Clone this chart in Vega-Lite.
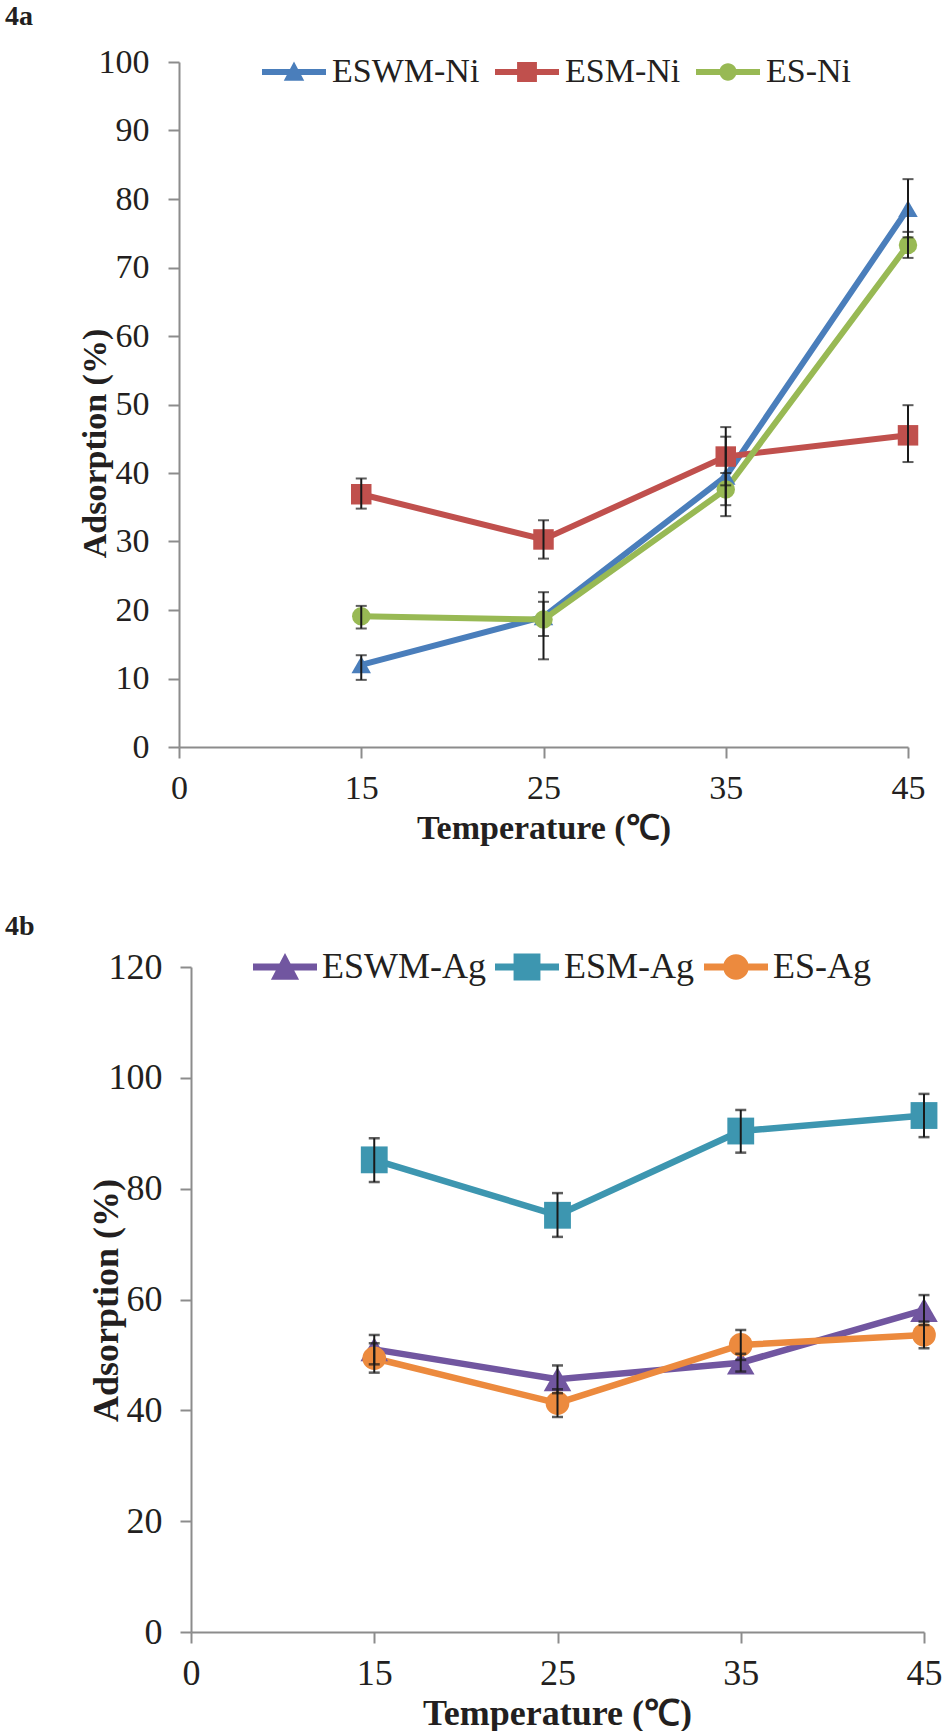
{
  "$schema": "https://vega.github.io/schema/vega-lite/v6.json",
  "background": "white",
  "padding": {"left": 5, "top": 3, "right": 0, "bottom": 0},
  "columns": 1,
  "spacing": 68,
  "resolve": {
    "scale": {"color": "independent", "shape": "independent", "fill": "independent", "stroke": "independent"},
    "legend": {"color": "independent", "shape": "independent"}
  },
  "config": {
    "font": "Liberation Serif",
    "view": {"stroke": null},
    "axis": {
      "grid": false,
      "domainColor": "#8c8c8c",
      "domainWidth": 2,
      "tickColor": "#8c8c8c",
      "tickWidth": 2,
      "tickSize": 11,
      "labelFont": "Liberation Serif",
      "labelFontSize": 34,
      "labelColor": "#231f20",
      "titleFont": "Liberation Serif",
      "titleFontSize": 34,
      "titleFontWeight": "bold",
      "titleColor": "#231f20"
    },
    "title": {"font": "Liberation Serif", "fontSize": 28, "fontWeight": "bold", "color": "#231f20"}
  },
  "concat": [
    {
      "title": {"text": "4a", "anchor": "start", "frame": "group", "dx": -174, "offset": -13, "baseline": "alphabetic"},
      "width": 729,
      "height": 685,
      "data": {
        "values": [
          {"temp": "15", "series": "ESWM-Ni", "value": 12.0, "lo": 9.8, "hi": 13.4},
          {"temp": "25", "series": "ESWM-Ni", "value": 19.0, "lo": 16.2, "hi": 21.2},
          {"temp": "35", "series": "ESWM-Ni", "value": 39.5, "lo": 33.7, "hi": 45.3},
          {"temp": "45", "series": "ESWM-Ni", "value": 78.6, "lo": 74.4, "hi": 82.9},
          {"temp": "15", "series": "ESM-Ni", "value": 36.9, "lo": 34.8, "hi": 39.2},
          {"temp": "25", "series": "ESM-Ni", "value": 30.3, "lo": 27.5, "hi": 33.1},
          {"temp": "35", "series": "ESM-Ni", "value": 42.4, "lo": 38.2, "hi": 46.7},
          {"temp": "45", "series": "ESM-Ni", "value": 45.5, "lo": 41.6, "hi": 49.9},
          {"temp": "15", "series": "ES-Ni", "value": 19.1, "lo": 17.3, "hi": 20.6},
          {"temp": "25", "series": "ES-Ni", "value": 18.6, "lo": 12.8, "hi": 22.6},
          {"temp": "35", "series": "ES-Ni", "value": 37.6, "lo": 35.3, "hi": 40.0},
          {"temp": "45", "series": "ES-Ni", "value": 73.3, "lo": 71.4, "hi": 75.2}
        ]
      },
      "encoding": {
        "x": {
          "field": "temp",
          "type": "ordinal",
          "scale": {"type": "point", "domain": ["0", "15", "25", "35", "45"], "padding": 0},
          "axis": {"title": "Temperature (℃)", "labelAngle": 0, "labelPadding": 13, "titleY": 91, "titleBaseline": "alphabetic"}
        }
      },
      "layer": [
        {
          "mark": {"type": "line", "strokeWidth": 6},
          "encoding": {
            "y": {"field": "value", "type": "quantitative", "scale": {"domain": [0, 100], "nice": false},
              "axis": {"title": "Adsorption (%)", "values": [0, 10, 20, 30, 40, 50, 60, 70, 80, 90, 100], "labelPadding": 19, "titleAngle": 270, "titleX": -74, "titleY": 381, "titleBaseline": "alphabetic"}},
            "stroke": {"field": "series", "type": "nominal", "scale": {"domain": ["ES-Ni", "ESM-Ni", "ESWM-Ni"], "range": ["#98b954", "#c0504d", "#4a7ebb"]}, "legend": null}
          }
        },
        {
          "transform": [{"filter": "datum.series == 'ESWM-Ni'"}],
          "mark": {"type": "point", "shape": "triangle-up", "filled": true, "opacity": 1, "size": 380},
          "encoding": {
            "y": {"field": "value", "type": "quantitative", "scale": {"domain": [0, 100], "nice": false},
              "axis": {"title": "Adsorption (%)", "values": [0, 10, 20, 30, 40, 50, 60, 70, 80, 90, 100], "labelPadding": 19, "titleAngle": 270, "titleX": -74, "titleY": 381, "titleBaseline": "alphabetic"}},
            "fill": {"field": "series", "type": "nominal", "scale": {"domain": ["ES-Ni", "ESM-Ni", "ESWM-Ni"], "range": ["#98b954", "#c0504d", "#4a7ebb"]}, "legend": null}
          }
        },
        {
          "transform": [{"filter": "datum.series == 'ESM-Ni'"}],
          "mark": {"type": "point", "shape": "square", "filled": true, "opacity": 1, "size": 420},
          "encoding": {
            "y": {"field": "value", "type": "quantitative", "scale": {"domain": [0, 100], "nice": false},
              "axis": {"title": "Adsorption (%)", "values": [0, 10, 20, 30, 40, 50, 60, 70, 80, 90, 100], "labelPadding": 19, "titleAngle": 270, "titleX": -74, "titleY": 381, "titleBaseline": "alphabetic"}},
            "fill": {"field": "series", "type": "nominal", "scale": {"domain": ["ES-Ni", "ESM-Ni", "ESWM-Ni"], "range": ["#98b954", "#c0504d", "#4a7ebb"]}, "legend": null}
          }
        },
        {
          "transform": [{"filter": "datum.series == 'ES-Ni'"}],
          "mark": {"type": "point", "shape": "circle", "filled": true, "opacity": 1, "size": 340},
          "encoding": {
            "y": {"field": "value", "type": "quantitative", "scale": {"domain": [0, 100], "nice": false},
              "axis": {"title": "Adsorption (%)", "values": [0, 10, 20, 30, 40, 50, 60, 70, 80, 90, 100], "labelPadding": 19, "titleAngle": 270, "titleX": -74, "titleY": 381, "titleBaseline": "alphabetic"}},
            "fill": {"field": "series", "type": "nominal", "scale": {"domain": ["ES-Ni", "ESM-Ni", "ESWM-Ni"], "range": ["#98b954", "#c0504d", "#4a7ebb"]}, "legend": null}
          }
        },
        {
          "mark": {"type": "rule", "color": "#1a1a1a", "strokeWidth": 2},
          "encoding": {
            "y": {"field": "lo", "type": "quantitative", "scale": {"domain": [0, 100], "nice": false},
              "axis": {"title": "Adsorption (%)", "values": [0, 10, 20, 30, 40, 50, 60, 70, 80, 90, 100], "labelPadding": 19, "titleAngle": 270, "titleX": -74, "titleY": 381, "titleBaseline": "alphabetic"}},
            "y2": {"field": "hi"}
          }
        },
        {
          "mark": {"type": "tick", "orient": "horizontal", "color": "#1a1a1a", "thickness": 2, "size": 11},
          "encoding": {
            "y": {"field": "lo", "type": "quantitative", "scale": {"domain": [0, 100], "nice": false},
              "axis": {"title": "Adsorption (%)", "values": [0, 10, 20, 30, 40, 50, 60, 70, 80, 90, 100], "labelPadding": 19, "titleAngle": 270, "titleX": -74, "titleY": 381, "titleBaseline": "alphabetic"}}
          }
        },
        {
          "mark": {"type": "tick", "orient": "horizontal", "color": "#1a1a1a", "thickness": 2, "size": 11},
          "encoding": {
            "y": {"field": "hi", "type": "quantitative", "scale": {"domain": [0, 100], "nice": false},
              "axis": {"title": "Adsorption (%)", "values": [0, 10, 20, 30, 40, 50, 60, 70, 80, 90, 100], "labelPadding": 19, "titleAngle": 270, "titleX": -74, "titleY": 381, "titleBaseline": "alphabetic"}}
          }
        },
        {
          "mark": {"type": "point", "filled": true, "opacity": 0, "size": 4096},
          "encoding": {
            "y": {"field": "value", "type": "quantitative", "scale": {"domain": [0, 100], "nice": false},
              "axis": {"title": "Adsorption (%)", "values": [0, 10, 20, 30, 40, 50, 60, 70, 80, 90, 100], "labelPadding": 19, "titleAngle": 270, "titleX": -74, "titleY": 381, "titleBaseline": "alphabetic"}},
            "color": {
              "field": "series",
              "type": "nominal",
              "scale": {"domain": ["ESWM-Ni", "ESM-Ni", "ES-Ni"], "range": ["#4a7ebb", "#c0504d", "#98b954"]},
              "legend": {"orient": "none", "legendX": 83, "legendY": -22, "direction": "horizontal", "title": null, "labelFont": "Liberation Serif", "labelFontSize": 34, "labelColor": "#231f20", "labelLimit": 0, "symbolSize": 4096, "symbolStrokeWidth": 0, "symbolOpacity": 1, "labelOffset": 6, "columnPadding": 15, "padding": 0}
            },
            "shape": {
              "field": "series",
              "type": "nominal",
              "scale": {
                "domain": ["ESWM-Ni", "ESM-Ni", "ES-Ni"],
                "range": [
                  "M-1,-0.09H1V0.09H-1Z M-0.32,0.27L0,-0.33L0.32,0.27Z",
                  "M-1,-0.09H1V0.09H-1Z M-0.31,-0.31H0.31V0.31H-0.31Z",
                  "M-1,-0.09H1V0.09H-1Z M-0.27,0A0.27,0.27 0 1,1 0.27,0A0.27,0.27 0 1,1 -0.27,0Z"
                ]
              },
              "legend": {"orient": "none", "legendX": 83, "legendY": -22, "direction": "horizontal", "title": null, "labelFont": "Liberation Serif", "labelFontSize": 34, "labelColor": "#231f20", "labelLimit": 0, "symbolSize": 4096, "symbolStrokeWidth": 0, "symbolOpacity": 1, "labelOffset": 6, "columnPadding": 15, "padding": 0}
            }
          }
        }
      ]
    },
    {
      "title": {"text": "4b", "anchor": "start", "frame": "group", "dx": -174, "offset": -28, "baseline": "alphabetic"},
      "width": 745,
      "height": 665,
      "data": {
        "values": [
          {"temp": "15", "series": "ESWM-Ag", "value": 51.0, "lo": 48.3, "hi": 53.6},
          {"temp": "25", "series": "ESWM-Ag", "value": 45.6, "lo": 43.1, "hi": 48.1},
          {"temp": "35", "series": "ESWM-Ag", "value": 48.6, "lo": 47.0, "hi": 50.2},
          {"temp": "45", "series": "ESWM-Ag", "value": 58.1, "lo": 55.4, "hi": 60.8},
          {"temp": "15", "series": "ESM-Ag", "value": 85.2, "lo": 81.2, "hi": 89.1},
          {"temp": "25", "series": "ESM-Ag", "value": 75.2, "lo": 71.3, "hi": 79.2},
          {"temp": "35", "series": "ESM-Ag", "value": 90.4, "lo": 86.5, "hi": 94.2},
          {"temp": "45", "series": "ESM-Ag", "value": 93.2, "lo": 89.3, "hi": 97.1},
          {"temp": "15", "series": "ES-Ag", "value": 49.4, "lo": 46.8, "hi": 52.1},
          {"temp": "25", "series": "ES-Ag", "value": 41.3, "lo": 38.8, "hi": 43.8},
          {"temp": "35", "series": "ES-Ag", "value": 51.8, "lo": 49.1, "hi": 54.5},
          {"temp": "45", "series": "ES-Ag", "value": 53.6, "lo": 51.2, "hi": 56.0}
        ]
      },
      "encoding": {
        "x": {
          "field": "temp",
          "type": "ordinal",
          "scale": {"type": "point", "domain": ["0", "15", "25", "35", "45"], "padding": 0, "range": [12, 745]},
          "axis": {"title": "Temperature (℃)", "labelAngle": 0, "labelFontSize": 36, "titleFontSize": 36, "labelPadding": 13, "titleY": 92, "titleX": 378, "titleBaseline": "alphabetic"}
        }
      },
      "layer": [
        {
          "mark": {"type": "line", "strokeWidth": 6.5},
          "encoding": {
            "y": {"field": "value", "type": "quantitative", "scale": {"domain": [0, 120], "nice": false},
              "axis": {"title": "Adsorption (%)", "offset": -12, "values": [0, 20, 40, 60, 80, 100, 120], "labelFontSize": 36, "titleFontSize": 36, "labelPadding": 18, "titleAngle": 270, "titleX": -74, "titleY": 333, "titleBaseline": "alphabetic"}},
            "stroke": {"field": "series", "type": "nominal", "scale": {"domain": ["ES-Ag", "ESM-Ag", "ESWM-Ag"], "range": ["#ec8a3e", "#3d96b0", "#7156a0"]}, "legend": null}
          }
        },
        {
          "transform": [{"filter": "datum.series == 'ESWM-Ag'"}],
          "mark": {"type": "point", "shape": "triangle-up", "filled": true, "opacity": 1, "size": 760},
          "encoding": {
            "y": {"field": "value", "type": "quantitative", "scale": {"domain": [0, 120], "nice": false},
              "axis": {"title": "Adsorption (%)", "offset": -12, "values": [0, 20, 40, 60, 80, 100, 120], "labelFontSize": 36, "titleFontSize": 36, "labelPadding": 18, "titleAngle": 270, "titleX": -74, "titleY": 333, "titleBaseline": "alphabetic"}},
            "fill": {"field": "series", "type": "nominal", "scale": {"domain": ["ES-Ag", "ESM-Ag", "ESWM-Ag"], "range": ["#ec8a3e", "#3d96b0", "#7156a0"]}, "legend": null}
          }
        },
        {
          "transform": [{"filter": "datum.series == 'ESM-Ag'"}],
          "mark": {"type": "point", "shape": "square", "filled": true, "opacity": 1, "size": 720},
          "encoding": {
            "y": {"field": "value", "type": "quantitative", "scale": {"domain": [0, 120], "nice": false},
              "axis": {"title": "Adsorption (%)", "offset": -12, "values": [0, 20, 40, 60, 80, 100, 120], "labelFontSize": 36, "titleFontSize": 36, "labelPadding": 18, "titleAngle": 270, "titleX": -74, "titleY": 333, "titleBaseline": "alphabetic"}},
            "fill": {"field": "series", "type": "nominal", "scale": {"domain": ["ES-Ag", "ESM-Ag", "ESWM-Ag"], "range": ["#ec8a3e", "#3d96b0", "#7156a0"]}, "legend": null}
          }
        },
        {
          "transform": [{"filter": "datum.series == 'ES-Ag'"}],
          "mark": {"type": "point", "shape": "circle", "filled": true, "opacity": 1, "size": 560},
          "encoding": {
            "y": {"field": "value", "type": "quantitative", "scale": {"domain": [0, 120], "nice": false},
              "axis": {"title": "Adsorption (%)", "offset": -12, "values": [0, 20, 40, 60, 80, 100, 120], "labelFontSize": 36, "titleFontSize": 36, "labelPadding": 18, "titleAngle": 270, "titleX": -74, "titleY": 333, "titleBaseline": "alphabetic"}},
            "fill": {"field": "series", "type": "nominal", "scale": {"domain": ["ES-Ag", "ESM-Ag", "ESWM-Ag"], "range": ["#ec8a3e", "#3d96b0", "#7156a0"]}, "legend": null}
          }
        },
        {
          "mark": {"type": "rule", "color": "#1a1a1a", "strokeWidth": 2},
          "encoding": {
            "y": {"field": "lo", "type": "quantitative", "scale": {"domain": [0, 120], "nice": false},
              "axis": {"title": "Adsorption (%)", "offset": -12, "values": [0, 20, 40, 60, 80, 100, 120], "labelFontSize": 36, "titleFontSize": 36, "labelPadding": 18, "titleAngle": 270, "titleX": -74, "titleY": 333, "titleBaseline": "alphabetic"}},
            "y2": {"field": "hi"}
          }
        },
        {
          "mark": {"type": "tick", "orient": "horizontal", "color": "#1a1a1a", "thickness": 2.5, "size": 11},
          "encoding": {
            "y": {"field": "lo", "type": "quantitative", "scale": {"domain": [0, 120], "nice": false},
              "axis": {"title": "Adsorption (%)", "offset": -12, "values": [0, 20, 40, 60, 80, 100, 120], "labelFontSize": 36, "titleFontSize": 36, "labelPadding": 18, "titleAngle": 270, "titleX": -74, "titleY": 333, "titleBaseline": "alphabetic"}}
          }
        },
        {
          "mark": {"type": "tick", "orient": "horizontal", "color": "#1a1a1a", "thickness": 2.5, "size": 11},
          "encoding": {
            "y": {"field": "hi", "type": "quantitative", "scale": {"domain": [0, 120], "nice": false},
              "axis": {"title": "Adsorption (%)", "offset": -12, "values": [0, 20, 40, 60, 80, 100, 120], "labelFontSize": 36, "titleFontSize": 36, "labelPadding": 18, "titleAngle": 270, "titleX": -74, "titleY": 333, "titleBaseline": "alphabetic"}}
          }
        },
        {
          "mark": {"type": "point", "filled": true, "opacity": 0, "size": 4096},
          "encoding": {
            "y": {"field": "value", "type": "quantitative", "scale": {"domain": [0, 120], "nice": false},
              "axis": {"title": "Adsorption (%)", "offset": -12, "values": [0, 20, 40, 60, 80, 100, 120], "labelFontSize": 36, "titleFontSize": 36, "labelPadding": 18, "titleAngle": 270, "titleX": -74, "titleY": 333, "titleBaseline": "alphabetic"}},
            "color": {
              "field": "series",
              "type": "nominal",
              "scale": {"domain": ["ESWM-Ag", "ESM-Ag", "ES-Ag"], "range": ["#7156a0", "#3d96b0", "#ec8a3e"]},
              "legend": {"orient": "none", "legendX": 74, "legendY": -32, "direction": "horizontal", "title": null, "labelFont": "Liberation Serif", "labelFontSize": 36, "labelColor": "#231f20", "labelLimit": 0, "symbolSize": 4096, "symbolStrokeWidth": 0, "symbolOpacity": 1, "labelOffset": 5, "columnPadding": 9, "padding": 0}
            },
            "shape": {
              "field": "series",
              "type": "nominal",
              "scale": {
                "domain": ["ESWM-Ag", "ESM-Ag", "ES-Ag"],
                "range": [
                  "M-1,-0.11H1V0.11H-1Z M-0.44,0.4L0,-0.44L0.44,0.4Z",
                  "M-1,-0.11H1V0.11H-1Z M-0.42,-0.42H0.42V0.42H-0.42Z",
                  "M-1,-0.11H1V0.11H-1Z M-0.4,0A0.4,0.4 0 1,1 0.4,0A0.4,0.4 0 1,1 -0.4,0Z"
                ]
              },
              "legend": {"orient": "none", "legendX": 74, "legendY": -32, "direction": "horizontal", "title": null, "labelFont": "Liberation Serif", "labelFontSize": 36, "labelColor": "#231f20", "labelLimit": 0, "symbolSize": 4096, "symbolStrokeWidth": 0, "symbolOpacity": 1, "labelOffset": 5, "columnPadding": 9, "padding": 0}
            }
          }
        }
      ]
    }
  ]
}
